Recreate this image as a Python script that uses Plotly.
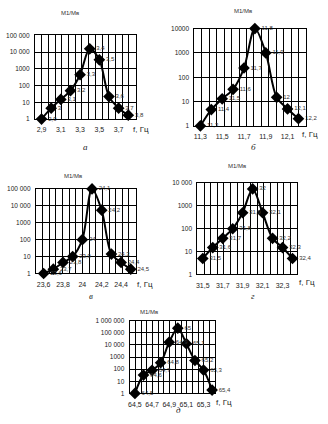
import numpy as np
import plotly.graph_objects as go

W, H = 328, 424

# Frequency (Hz) and amplitude ratio M1/Mв for each resonance panel
freq_a = [2.9, 3.0, 3.1, 3.2, 3.3, 3.4, 3.5, 3.6, 3.7, 3.8]
ratio_a = [1, 4.5, 15, 50, 450, 16000, 3500, 22, 4.5, 1.7]
ticks_a = ["2,9", "3,1", "3,3", "3,5", "3,7"]

freq_b = [11.3, 11.4, 11.5, 11.6, 11.7, 11.8, 11.9, 12.0, 12.1, 12.2]
ratio_b = [1, 4.7, 13, 32, 240, 10000, 1000, 15, 5, 2]
ticks_b = ["11,3", "11,5", "11,7", "11,9", "12,1"]

freq_v = [23.6, 23.7, 23.8, 23.9, 24.0, 24.1, 24.2, 24.3, 24.4, 24.5]
ratio_v = [1, 1.8, 4.5, 10, 100, 100000, 5500, 14, 4.5, 1.8]
ticks_v = ["23,6", "23,8", "24", "24,2", "24,4"]

freq_g = [31.5, 31.6, 31.7, 31.8, 31.9, 32.0, 32.1, 32.2, 32.3, 32.4]
ratio_g = [5, 15, 38, 100, 500, 5500, 500, 38, 15, 5]
ticks_g = ["31,5", "31,7", "31,9", "32,1", "32,3"]

freq_d = [64.5, 64.6, 64.7, 64.8, 64.9, 65.0, 65.1, 65.2, 65.3, 65.4]
ratio_d = [1, 33, 80, 340, 17000, 240000, 12600, 520, 85, 1.9]
ticks_d = ["64,5", "64,7", "64,9", "65,1", "65,3"]

y_labels = ["1", "10", "100", "1000", "10 000", "100 000", "1 000 000"]

# panel geometry in pixels: plot box (left, right, top, bottom), x range, decades,
# title position, axis caption position, panel letter position
panels = [
    dict(f=freq_a, r=ratio_a, t=ticks_a, box=(34, 135, 32, 117), xr=(2.831, 3.876), dec=5,
         title=(69, 9), fcap=(140, 128), letter=("а", 85, 145), ylab=None),
    dict(f=freq_b, r=ratio_b, t=ticks_b, box=(194, 306, 25, 124), xr=(11.245, 12.27), dec=4,
         title=(243, 7), fcap=(310, 133), letter=("б", 253, 145),
         ylab=["1", "10", "100", "1000", "10000"]),
    dict(f=freq_v, r=ratio_v, t=ticks_v, box=(35, 135, 188, 274), xr=(23.52, 24.55), dec=5,
         title=(72, 175), fcap=(144, 285), letter=("в", 90, 297), ylab=None),
    dict(f=freq_g, r=ratio_g, t=ticks_g, box=(197, 297, 182, 275), xr=(31.446, 32.446), dec=4,
         title=(237, 165), fcap=(307, 283), letter=("г", 253, 297), ylab=None),
    dict(f=freq_d, r=ratio_d, t=ticks_d, box=(129, 215, 322, 396), xr=(64.438, 65.438), dec=6,
         title=(148, 313), fcap=(224, 405), letter=("д", 178, 413), ylab=None),
]

FONT = "Liberation Sans"
fig = go.Figure()
annotations = []


def fmt(v):
    return f"{v:g}".replace(".", ",")


for i, p in enumerate(panels, start=1):
    xa = "x" if i == 1 else f"x{i}"
    ya = "y" if i == 1 else f"y{i}"
    xkey = "xaxis" if i == 1 else f"xaxis{i}"
    ykey = "yaxis" if i == 1 else f"yaxis{i}"
    l, r, t, b = p["box"]

    fig.add_trace(go.Scatter(
        x=p["f"], y=p["r"], xaxis=xa, yaxis=ya,
        mode="lines+markers+text",
        line=dict(color="black", width=2, shape="spline", smoothing=0.9),
        marker=dict(symbol="diamond", size=9, color="black"),
        text=[fmt(v) for v in p["f"]],
        textposition="middle right",
        textfont=dict(family=FONT, size=6, color="#333333"),
        cliponaxis=False, showlegend=False, hoverinfo="skip",
    ))

    x0, x1 = p["xr"]
    tickvals_x = [p["f"][k] for k in range(0, len(p["f"]), 2)]
    fig.layout[xkey] = dict(
        domain=[l / W, r / W], range=[x0, x1], anchor=ya,
        tickmode="array", tickvals=tickvals_x, ticktext=p["t"],
        showgrid=False, zeroline=False,
        showline=True, mirror=True, linecolor="black", linewidth=1,
        ticks="", ticklabelstandoff=4,
        tickfont=dict(family=FONT, size=7, color="#222222"),
        minor=dict(tickmode="array", tickvals=list(np.linspace(x0, x1, 16)),
                   showgrid=True, gridcolor="black", gridwidth=1, ticks=""),
    )
    ylab = p["ylab"] or y_labels[: p["dec"] + 1]
    fig.layout[ykey] = dict(
        domain=[1 - b / H, 1 - t / H], type="log", range=[0, p["dec"]], anchor=xa,
        tickmode="array", tickvals=[10 ** k for k in range(p["dec"] + 1)], ticktext=ylab,
        showgrid=True, gridcolor="black", gridwidth=1, zeroline=False,
        showline=True, mirror=True, linecolor="black", linewidth=1,
        ticks="", ticklabelstandoff=3,
        tickfont=dict(family=FONT, size=6.5, color="#222222"),
    )

    tx, ty = p["title"]
    annotations.append(dict(text="M1/Mв", x=tx / W, y=1 - ty / H, xref="paper", yref="paper",
                            showarrow=False, font=dict(family=FONT, size=6, color="#333333"),
                            xanchor="center", yanchor="middle"))
    fx, fy = p["fcap"]
    annotations.append(dict(text="f, Гц", x=fx / W, y=1 - fy / H, xref="paper", yref="paper",
                            showarrow=False, font=dict(family=FONT, size=8, color="#222222"),
                            xanchor="center", yanchor="middle"))
    lt, lx, ly = p["letter"]
    annotations.append(dict(text=f"<i>{lt}</i>", x=lx / W, y=1 - ly / H, xref="paper", yref="paper",
                            showarrow=False, font=dict(family="Liberation Serif", size=9, color="#222222"),
                            xanchor="center", yanchor="middle"))

fig.update_layout(
    width=W, height=H, margin=dict(l=0, r=0, t=0, b=0),
    paper_bgcolor="white", plot_bgcolor="white",
    annotations=annotations, showlegend=False,
)

fig.write_html("out.html")
